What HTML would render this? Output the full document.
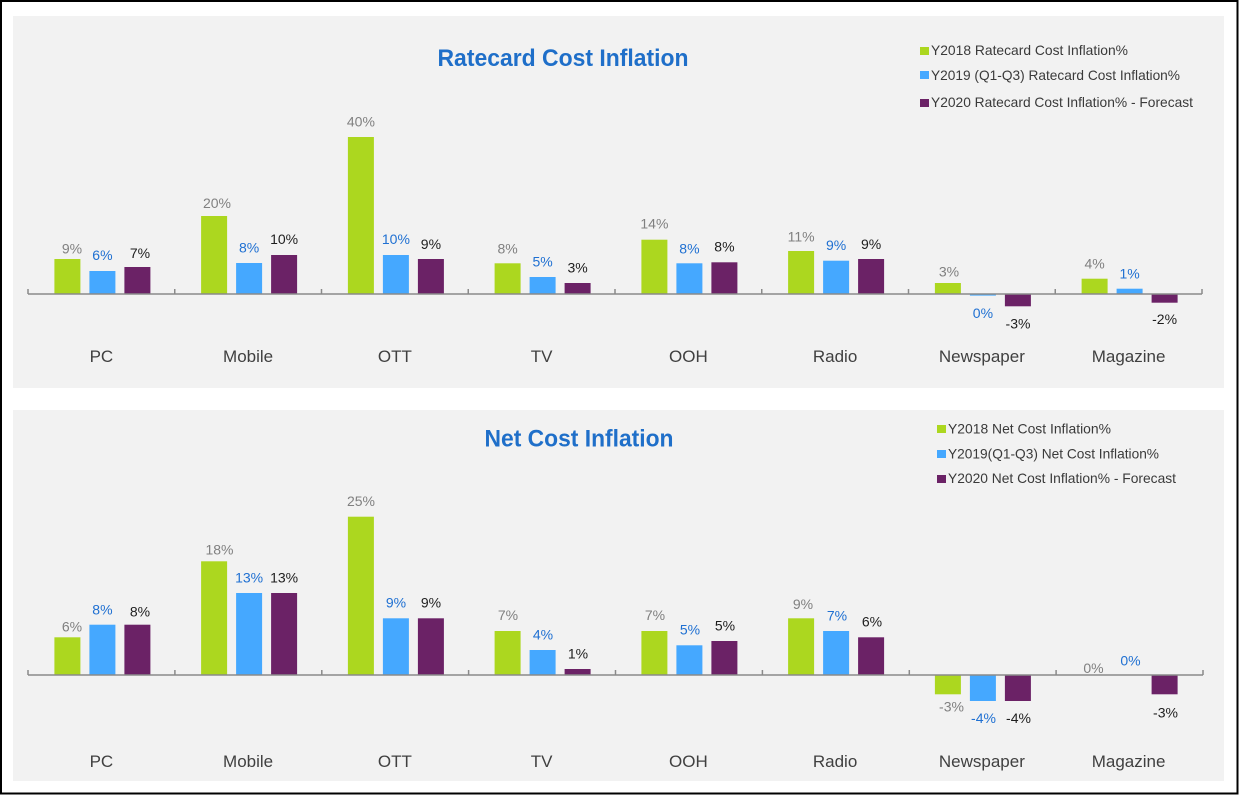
<!DOCTYPE html>
<html>
<head>
<meta charset="utf-8">
<style>
html,body{margin:0;padding:0;background:#fff;}
svg{display:block;}
text{font-family:"Liberation Sans",Arial,sans-serif;}
.g{fill:#acd71f;}
.b{fill:#45a8ff;}
.p{fill:#6b2266;}
.lg{fill:#808080;font-size:14px;text-anchor:middle;}
.lb{fill:#1f70d2;font-size:14px;text-anchor:middle;}
.lp{fill:#1e1e1e;font-size:14px;text-anchor:middle;}
.cat{fill:#404040;font-size:17px;text-anchor:middle;}
.leg{fill:#3a3a3a;font-size:14px;}
.ttl{fill:#1f6fc9;font-size:24px;font-weight:bold;text-anchor:middle;}
</style>
</head>
<body>
<svg width="1239" height="795" viewBox="0 0 1239 795" xmlns="http://www.w3.org/2000/svg">
<rect x="0" y="0" width="1239" height="795" fill="#fff"/>
<rect x="13" y="16" width="1211" height="372" fill="#f2f2f2"/>
<rect x="13" y="410" width="1211" height="371" fill="#f2f2f2"/>
<rect x="1" y="1" width="1236.5" height="792.5" fill="none" stroke="#000" stroke-width="2"/>

<!-- ===== TOP CHART ===== -->
<text class="ttl" x="563" y="66" textLength="251" lengthAdjust="spacingAndGlyphs">Ratecard Cost Inflation</text>

<rect class="g" x="920" y="47" width="9" height="8"/>
<text class="leg" x="931" y="55" textLength="197" lengthAdjust="spacingAndGlyphs">Y2018 Ratecard Cost Inflation%</text>
<rect class="b" x="920" y="71" width="9" height="8"/>
<text class="leg" x="931" y="80" textLength="249" lengthAdjust="spacingAndGlyphs">Y2019 (Q1-Q3) Ratecard Cost Inflation%</text>
<rect class="p" x="920" y="99" width="9" height="8"/>
<text class="leg" x="931" y="107" textLength="262" lengthAdjust="spacingAndGlyphs">Y2020 Ratecard Cost Inflation% - Forecast</text>

<!-- bars top -->
<!-- PC c=101.375 -->
<rect class="g" x="54.4" y="259" width="26" height="35"/>
<rect class="b" x="89.4" y="271" width="26" height="23"/>
<rect class="p" x="124.4" y="267" width="26" height="27"/>
<!-- Mobile c=248.125 -->
<rect class="g" x="201.1" y="216" width="26" height="78"/>
<rect class="b" x="236.1" y="263" width="26" height="31"/>
<rect class="p" x="271.1" y="255" width="26" height="39"/>
<!-- OTT c=394.875 -->
<rect class="g" x="347.9" y="137" width="26" height="157"/>
<rect class="b" x="382.9" y="255" width="26" height="39"/>
<rect class="p" x="417.9" y="259" width="26" height="35"/>
<!-- TV c=541.625 -->
<rect class="g" x="494.6" y="263.3" width="26" height="30.7"/>
<rect class="b" x="529.6" y="277" width="26" height="17"/>
<rect class="p" x="564.6" y="283" width="26" height="11"/>
<!-- OOH c=688.375 -->
<rect class="g" x="641.4" y="239.7" width="26" height="54.3"/>
<rect class="b" x="676.4" y="263.3" width="26" height="30.7"/>
<rect class="p" x="711.4" y="262.3" width="26" height="31.7"/>
<!-- Radio c=835.125 -->
<rect class="g" x="788.1" y="251" width="26" height="43"/>
<rect class="b" x="823.1" y="260.7" width="26" height="33.3"/>
<rect class="p" x="858.1" y="259" width="26" height="35"/>
<!-- Newspaper c=981.875 -->
<rect class="g" x="934.9" y="283" width="26" height="11"/>
<rect class="b" x="969.9" y="294" width="26" height="1.6"/>
<rect class="p" x="1004.9" y="294" width="26" height="12.3"/>
<!-- Magazine c=1128.625 -->
<rect class="g" x="1081.6" y="278.7" width="26" height="15.3"/>
<rect class="b" x="1116.6" y="288.7" width="26" height="5.3"/>
<rect class="p" x="1151.6" y="294" width="26" height="8.7"/>

<!-- axis top -->
<g stroke="#8a8a8a" stroke-width="1.5" fill="none">
<line x1="28" y1="294" x2="1202" y2="294"/>
<line x1="28" y1="289" x2="28" y2="294"/>
<line x1="174.75" y1="289" x2="174.75" y2="294"/>
<line x1="321.5" y1="289" x2="321.5" y2="294"/>
<line x1="468.25" y1="289" x2="468.25" y2="294"/>
<line x1="615" y1="289" x2="615" y2="294"/>
<line x1="761.75" y1="289" x2="761.75" y2="294"/>
<line x1="908.5" y1="289" x2="908.5" y2="294"/>
<line x1="1055.25" y1="289" x2="1055.25" y2="294"/>
<line x1="1202" y1="289" x2="1202" y2="294"/>
</g>

<!-- labels top -->
<text class="lg" x="72" y="253.3">9%</text>
<text class="lb" x="102.4" y="260">6%</text>
<text class="lp" x="140" y="258">7%</text>

<text class="lg" x="217" y="208">20%</text>
<text class="lb" x="249.1" y="252.7">8%</text>
<text class="lp" x="284.1" y="244">10%</text>

<text class="lg" x="360.9" y="126.7">40%</text>
<text class="lb" x="395.9" y="244">10%</text>
<text class="lp" x="430.9" y="249">9%</text>

<text class="lg" x="507.6" y="253.3">8%</text>
<text class="lb" x="542.6" y="266.7">5%</text>
<text class="lp" x="577.6" y="272.7">3%</text>

<text class="lg" x="654.4" y="228.3">14%</text>
<text class="lb" x="689.4" y="253.3">8%</text>
<text class="lp" x="724.4" y="251.7">8%</text>

<text class="lg" x="801.1" y="241.7">11%</text>
<text class="lb" x="836.1" y="250">9%</text>
<text class="lp" x="871.1" y="249">9%</text>

<text class="lg" x="949" y="276.7">3%</text>
<text class="lb" x="982.9" y="318">0%</text>
<text class="lp" x="1018" y="328.3">-3%</text>

<text class="lg" x="1094.6" y="268.3">4%</text>
<text class="lb" x="1129.6" y="278.3">1%</text>
<text class="lp" x="1164.6" y="324">-2%</text>

<!-- categories top -->
<text class="cat" x="101.4" y="362">PC</text>
<text class="cat" x="248.1" y="362">Mobile</text>
<text class="cat" x="394.9" y="362">OTT</text>
<text class="cat" x="541.6" y="362">TV</text>
<text class="cat" x="688.4" y="362">OOH</text>
<text class="cat" x="835.1" y="362">Radio</text>
<text class="cat" x="981.9" y="362">Newspaper</text>
<text class="cat" x="1128.6" y="362">Magazine</text>

<!-- ===== BOTTOM CHART ===== -->
<text class="ttl" x="579" y="446.5" textLength="189" lengthAdjust="spacingAndGlyphs">Net Cost Inflation</text>

<rect class="g" x="937" y="425" width="9" height="8"/>
<text class="leg" x="948" y="433.3" textLength="163" lengthAdjust="spacingAndGlyphs">Y2018 Net Cost Inflation%</text>
<rect class="b" x="937" y="450" width="9" height="8"/>
<text class="leg" x="948" y="458.3" textLength="211" lengthAdjust="spacingAndGlyphs">Y2019(Q1-Q3) Net Cost Inflation%</text>
<rect class="p" x="937" y="475" width="9" height="8"/>
<text class="leg" x="948" y="483" textLength="228" lengthAdjust="spacingAndGlyphs">Y2020 Net Cost Inflation% - Forecast</text>

<!-- bars bottom -->
<rect class="g" x="54.4" y="637.3" width="26" height="37.7"/>
<rect class="b" x="89.4" y="624.7" width="26" height="50.3"/>
<rect class="p" x="124.4" y="624.7" width="26" height="50.3"/>

<rect class="g" x="201.1" y="561.3" width="26" height="113.7"/>
<rect class="b" x="236.1" y="593" width="26" height="82"/>
<rect class="p" x="271.1" y="593" width="26" height="82"/>

<rect class="g" x="347.9" y="516.7" width="26" height="158.3"/>
<rect class="b" x="382.9" y="618.3" width="26" height="56.7"/>
<rect class="p" x="417.9" y="618.3" width="26" height="56.7"/>

<rect class="g" x="494.6" y="631" width="26" height="44"/>
<rect class="b" x="529.6" y="650" width="26" height="25"/>
<rect class="p" x="564.6" y="669" width="26" height="6"/>

<rect class="g" x="641.4" y="631" width="26" height="44"/>
<rect class="b" x="676.4" y="645.3" width="26" height="29.7"/>
<rect class="p" x="711.4" y="641" width="26" height="34"/>

<rect class="g" x="788.1" y="618.3" width="26" height="56.7"/>
<rect class="b" x="823.1" y="631" width="26" height="44"/>
<rect class="p" x="858.1" y="637.3" width="26" height="37.7"/>

<rect class="g" x="934.9" y="675" width="26" height="19.3"/>
<rect class="b" x="969.9" y="675" width="26" height="26"/>
<rect class="p" x="1004.9" y="675" width="26" height="26"/>

<rect class="p" x="1151.6" y="675" width="26" height="19.3"/>

<!-- axis bottom -->
<g stroke="#8a8a8a" stroke-width="1.5" fill="none">
<line x1="28" y1="675" x2="1203" y2="675"/>
<line x1="28" y1="670" x2="28" y2="675"/>
<line x1="174.9" y1="670" x2="174.9" y2="675"/>
<line x1="321.8" y1="670" x2="321.8" y2="675"/>
<line x1="468.6" y1="670" x2="468.6" y2="675"/>
<line x1="615.5" y1="670" x2="615.5" y2="675"/>
<line x1="762.4" y1="670" x2="762.4" y2="675"/>
<line x1="909.3" y1="670" x2="909.3" y2="675"/>
<line x1="1056.1" y1="670" x2="1056.1" y2="675"/>
<line x1="1203" y1="670" x2="1203" y2="675"/>
</g>

<!-- labels bottom -->
<text class="lg" x="72" y="631.7">6%</text>
<text class="lb" x="102.4" y="614.3">8%</text>
<text class="lp" x="140" y="616.7">8%</text>

<text class="lg" x="219.5" y="554.3">18%</text>
<text class="lb" x="249.1" y="582.3">13%</text>
<text class="lp" x="284.1" y="582.3">13%</text>

<text class="lg" x="361" y="506">25%</text>
<text class="lb" x="396" y="607.3">9%</text>
<text class="lp" x="431" y="607.3">9%</text>

<text class="lg" x="508" y="620">7%</text>
<text class="lb" x="543" y="639.3">4%</text>
<text class="lp" x="578" y="658.3">1%</text>

<text class="lg" x="655" y="620">7%</text>
<text class="lb" x="690" y="634.3">5%</text>
<text class="lp" x="725" y="630.7">5%</text>

<text class="lg" x="803" y="609">9%</text>
<text class="lb" x="837" y="620.7">7%</text>
<text class="lp" x="872" y="626.7">6%</text>

<text class="lg" x="951.5" y="711.7">-3%</text>
<text class="lb" x="983.5" y="723">-4%</text>
<text class="lp" x="1018.5" y="723">-4%</text>

<text class="lg" x="1093.5" y="673">0%</text>
<text class="lb" x="1130.5" y="665.7">0%</text>
<text class="lp" x="1165.5" y="717.3">-3%</text>

<!-- categories bottom -->
<text class="cat" x="101.4" y="767">PC</text>
<text class="cat" x="248.1" y="767">Mobile</text>
<text class="cat" x="394.9" y="767">OTT</text>
<text class="cat" x="541.6" y="767">TV</text>
<text class="cat" x="688.4" y="767">OOH</text>
<text class="cat" x="835.1" y="767">Radio</text>
<text class="cat" x="981.9" y="767">Newspaper</text>
<text class="cat" x="1128.6" y="767">Magazine</text>
</svg>
</body>
</html>
